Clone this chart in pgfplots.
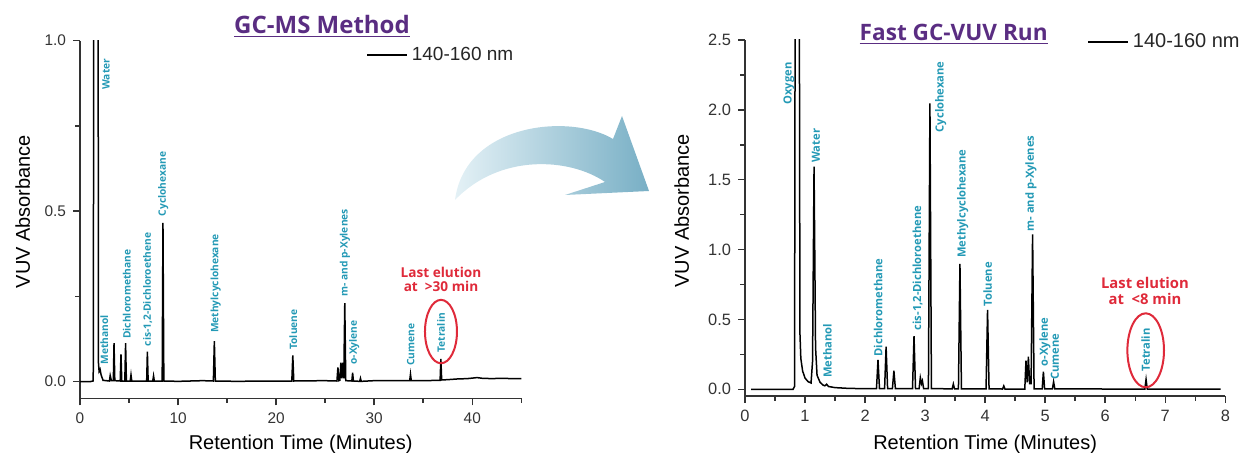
\documentclass[border=0pt]{standalone}
\usepackage{fontspec}
\setmainfont{Liberation Sans}
\newfontfamily\osans{Open Sans}
\usepackage{pgfplots}
\pgfplotsset{compat=1.18}

\definecolor{axisgray}{HTML}{333333}
\definecolor{peaklbl}{HTML}{2399B5}
\definecolor{lastred}{HTML}{DF2A3A}
\definecolor{titlepurple}{HTML}{5A2D82}
\definecolor{arrowL}{HTML}{E4F1F6}
\definecolor{arrowR}{HTML}{78AFC5}

\pgfplotsset{
  chrom/.style={
    scale only axis,
    axis lines=left,
    axis line style={axisgray, line width=0.75pt, -},
    tick style={draw=axisgray, line width=0.75pt},
    tick align=outside,
    major tick length=3.5pt, minor tick length=2.5pt,
    /pgf/number format/assume math mode=true,
    yticklabel style={/pgf/number format/.cd, fixed, fixed zerofill, precision=1},
    label style={font=\fontsize{9.2}{11}\selectfont, text=axisgray},
    clip mode=individual,
    legend style={draw=none, fill=none, inner sep=0pt, anchor=west,
      font=\fontsize{9.5}{11}\selectfont, text=black!85},
    legend image code/.code={\draw[#1] (0pt,0pt) -- (20pt,0pt);},
  },
}
\tikzset{
  lbl/.style={font=\osans\bfseries\fontsize{5.1}{6}\selectfont, text=peaklbl,
    rotate=90, anchor=west, inner sep=0pt},
  lblR/.style={lbl, font=\osans\bfseries\fontsize{5.6}{6.5}\selectfont},
  tk/.style={draw=axisgray, line width=0.75pt},
}

\begin{document}
\begin{tikzpicture}
\useasboundingbox (0,0) rectangle (623pt,226.5pt);

% ---- left: GC-MS method
\begin{axis}[chrom,
  at={(40pt,27.35pt)}, anchor=south west,
  width=220.65pt, height=178.8pt,
  xmin=0, xmax=45, ymin=-0.0487, ymax=1.0,
  xtick={0,10,20,30,40}, ytick={0,0.5,1},
  ticklabel style={font=\fontsize{7.7}{9}\selectfont, text=axisgray},
  xlabel={Retention Time (Minutes)}, ylabel={VUV Absorbance},
  every axis y label/.style={at={(axis description cs:-0.130,0.522)}, rotate=90, anchor=center},
  every axis x label/.style={at={(axis description cs:0.5,-0.128)}, anchor=center},
  legend style={at={(axis description cs:0.648,0.960)}},
]
\addplot[black, line width=0.75pt] coordinates {
(0,0.000)(1.0,0.000)(1.33,0.002)(1.37,0.05)(1.39,1.5)(1.85,1.5)(1.87,0.06)
(1.95,0.03)(2.05,0.036)(2.15,0.02)(2.35,0.004)(3.0,0.002)(3.08,0.018)(3.2,0.003)
(3.4,0.003)(3.47,0.113)(3.55,0.003)(4.1,0.002)(4.18,0.080)(4.26,0.002)
(4.57,0.002)(4.65,0.113)(4.73,0.002)(5.12,0.002)(5.2,0.020)(5.28,0.002)
(6.8,0.002)(6.87,0.088)(6.95,0.002)(7.42,0.002)(7.5,0.017)(7.58,0.002)
(8.38,0.002)(8.46,0.466)(8.55,0.002)(10,0.001)(12.5,0.003)(13.6,0.002)
(13.7,0.119)(13.8,0.002)(16,0.001)(19,0.002)(21.6,0.002)(21.7,0.077)(21.8,0.002)
(24.9,0.003)(26.2,0.002)(26.3,0.042)(26.4,0.003)(26.5,0.004)(26.6,0.056)
(26.7,0.01)(26.8,0.056)(26.9,0.01)(27.0,0.23)(27.1,0.003)(27.72,0.002)
(27.8,0.026)(27.88,0.002)(28.52,0.001)(28.6,0.01)(28.68,0.001)(30,0.003)
(32,0.003)(33.62,0.003)(33.7,0.022)(33.78,0.003)(35,0.003)(36.72,0.004)
(36.8,0.067)(36.88,0.005)(37.5,0.006)(38.5,0.008)(39.5,0.009)(40.5,0.012)
(41,0.010)(42,0.009)(43,0.010)(44,0.009)(45,0.009)
};
\addlegendentry{140-160 nm}
% tick marks
\pgfplotsinvokeforeach{0,10,20,30,40}{\draw[tk] (axis cs:#1,-0.0487) -- ++(0pt,-3.5pt);}
\pgfplotsinvokeforeach{5,15,25,35,45}{\draw[tk] (axis cs:#1,-0.0487) -- ++(0pt,-2.5pt);}
\pgfplotsinvokeforeach{0,0.5,1}{\draw[tk] (axis cs:0,#1) -- ++(-3.5pt,0pt);}
\pgfplotsinvokeforeach{0.25,0.75}{\draw[tk] (axis cs:0,#1) -- ++(-2.5pt,0pt);}
\node[lbl] at (axis cs:2.65,0.855) {Water};
\node[lbl] at (axis cs:2.48,0.049) {Methanol};
\node[lbl] at (axis cs:4.76,0.125) {Dichloromethane};
\node[lbl] at (axis cs:6.90,0.103) {cis-1,2-Dichloroethene};
\node[lbl] at (axis cs:8.49,0.484) {Cyclohexane};
\node[lbl] at (axis cs:13.84,0.142) {Methylcyclohexane};
\node[lbl] at (axis cs:21.75,0.093) {Toluene};
\node[lbl] at (axis cs:27.02,0.249) {m- and p-Xylenes};
\node[lbl] at (axis cs:27.97,0.049) {o-Xylene};
\node[lbl] at (axis cs:33.72,0.046) {Cumene};
\node[lbl] at (axis cs:36.81,0.085) {Tetralin};
\draw[lastred, line width=1pt] (axis cs:36.81,0.147) ellipse [x radius=8pt, y radius=15.85pt];
\node[text=lastred, font=\osans\bfseries\fontsize{6.8}{6.65}\selectfont, align=center]
  at (axis cs:36.81,0.30) {Last elution\\at \ >30 min};
\end{axis}

% ---- right: fast GC-VUV run
\begin{axis}[chrom,
  at={(372.5pt,28.5pt)}, anchor=south west,
  width=240.15pt, height=178pt,
  xmin=0, xmax=8, ymin=-0.048, ymax=2.5,
  xtick={0,1,...,8}, ytick={0,0.5,...,2.5},
  ticklabel style={font=\fontsize{8.2}{10}\selectfont, text=axisgray},
  xlabel={Retention Time (Minutes)}, ylabel={VUV Absorbance},
  every axis y label/.style={at={(axis description cs:-0.132,0.520)}, rotate=90, anchor=center},
  every axis x label/.style={at={(axis description cs:0.5,-0.135)}, anchor=center},
  legend style={at={(axis description cs:0.712,0.995)}, font=\fontsize{10}{12}\selectfont},
]
\addplot[black, line width=0.75pt] coordinates {
(0.1,0)(0.8,0)(0.825,0.02)(0.835,2.8)(0.905,2.8)(0.915,0.4)(0.93,0.22)(0.96,0.13)
(1.0,0.08)(1.05,0.055)(1.1,0.045)(1.125,0.2)(1.15,1.593)(1.175,0.3)(1.2,0.1)
(1.25,0.05)(1.3,0.03)(1.33,0.025)(1.36,0.036)(1.39,0.02)(1.5,0.012)(1.7,0.007)
(2.0,0.004)(2.19,0.004)(2.215,0.21)(2.24,0.004)(2.325,0.004)(2.35,0.305)
(2.375,0.004)(2.455,0.004)(2.48,0.133)(2.505,0.004)(2.79,0.004)(2.815,0.38)
(2.84,0.004)(2.9,0.004)(2.92,0.083)(2.94,0.04)(2.955,0.06)(2.975,0.004)
(3.055,0.004)(3.08,2.047)(3.105,0.005)(3.45,0.003)(3.47,0.038)(3.49,0.003)
(3.555,0.003)(3.58,0.897)(3.605,0.003)(4.015,0.003)(4.04,0.568)(4.065,0.003)
(4.29,0.002)(4.31,0.024)(4.33,0.002)(4.66,0.002)(4.68,0.205)(4.7,0.05)
(4.72,0.233)(4.74,0.04)(4.765,0.04)(4.79,1.109)(4.815,0.003)(4.95,0.003)
(4.97,0.126)(4.99,0.003)(5.12,0.003)(5.14,0.054)(5.16,0.003)(6.0,0.002)
(6.66,0.002)(6.68,0.07)(6.7,0.002)(7.92,0.002)
};
\addlegendentry{140-160 nm}
% tick marks
\pgfplotsinvokeforeach{0,1,2,3,4,5,6,7,8}{\draw[tk] (axis cs:#1,-0.048) -- ++(0pt,-3.5pt);}
\pgfplotsinvokeforeach{0.5,1.5,2.5,3.5,4.5,5.5,6.5,7.5}{\draw[tk] (axis cs:#1,-0.048) -- ++(0pt,-2.5pt);}
\pgfplotsinvokeforeach{0,0.5,1,1.5,2,2.5}{\draw[tk] (axis cs:0,#1) -- ++(-3.5pt,0pt);}
\pgfplotsinvokeforeach{0.25,0.75,1.25,1.75,2.25}{\draw[tk] (axis cs:0,#1) -- ++(-2.5pt,0pt);}
\node[lblR] at (axis cs:0.733,2.035) {Oxygen};
\node[lblR] at (axis cs:1.183,1.618) {Water};
\node[lblR] at (axis cs:1.371,0.079) {Methanol};
\node[lblR] at (axis cs:2.22,0.233) {Dichloromethane};
\node[lblR] at (axis cs:2.876,0.419) {cis-1,2-Dichloroethene};
\node[lblR] at (axis cs:3.26,1.837) {Cyclohexane};
\node[lblR] at (axis cs:3.626,0.938) {Methylcyclohexane};
\node[lblR] at (axis cs:4.042,0.591) {Toluene};
\node[lblR] at (axis cs:4.763,1.128) {m- and p-Xylenes};
\node[lblR] at (axis cs:4.997,0.162) {o-Xylene};
\node[lblR] at (axis cs:5.163,0.067) {Cumene};
\node[lblR] at (axis cs:6.674,0.126) {Tetralin};
\draw[lastred, line width=1pt] (axis cs:6.674,0.279) ellipse [x radius=9.15pt, y radius=18.5pt];
\node[text=lastred, font=\osans\bfseries\fontsize{7.4}{7.85}\selectfont, align=center]
  at (axis cs:6.662,0.702) {Last elution\\at \ <8 min};
\end{axis}

% ---- titles and the arrow (pixel-like units)
\begin{scope}[x=0.5pt, y=0.5pt]
\node[anchor=base, inner sep=0pt, text=titlepurple, font=\osans\bfseries\fontsize{12}{14}\selectfont]
  at (322,419.7) {\underline{GC-MS Method}};
\node[anchor=base, inner sep=0pt, text=titlepurple, font=\osans\bfseries\fontsize{11.3}{13}\selectfont]
  at (953.7,412.5) {\underline{Fast GC-VUV Run}};
\shade[left color=arrowL, right color=arrowR]
  (455,253) .. controls (465,330) and (570,340) .. (613,314)
  -- (622,337) -- (649,262) -- (565,258) -- (605,271)
  .. controls (570,295) and (500,300) .. (455,253) -- cycle;
\end{scope}
\end{tikzpicture}
\end{document}
